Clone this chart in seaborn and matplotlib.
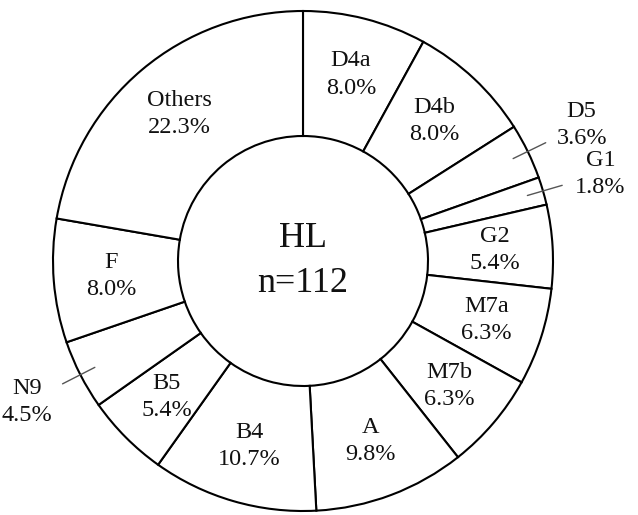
import numpy as np
import matplotlib
matplotlib.use("Agg")
import matplotlib.pyplot as plt
import seaborn as sns

# Haplogroup shares (%) in clockwise order starting at 12 o'clock
groups = ["D4a", "D4b", "D5", "G1", "G2", "M7a", "M7b", "A", "B4", "B5", "N9", "F", "Others"]
percents = [8.0, 8.0, 3.6, 1.8, 5.4, 6.3, 6.3, 9.8, 10.7, 5.4, 4.5, 8.0, 22.3]
# Narrow slices whose labels sit outside the ring with a leader line
outside_labels = ["D5", "G1", "N9"]
center_title = "HL"
n_total = 112

sns.set_theme(style="white")
plt.rcParams["font.family"] = ["Liberation Serif", "DejaVu Serif"]

fig = plt.figure(figsize=(6.38, 5.15), dpi=100)
ax = fig.add_axes([0, 0, 1, 1])

wedges, _ = ax.pie(
    percents,
    startangle=90,
    counterclock=False,
    radius=1.0,
    wedgeprops=dict(width=0.5, facecolor="white", edgecolor="black", linewidth=1.5),
)
ax.set_xlim(-1.212, 1.340)
ax.set_ylim(-1.016, 1.044)
ax.set_aspect("auto")
ax.axis("off")

for w, name, pct in zip(wedges, groups, percents):
    mid = np.deg2rad((w.theta1 + w.theta2) / 2.0)
    c, s = np.cos(mid), np.sin(mid)
    label = f"{name}\n{pct:.1f}%"
    if name in outside_labels:
        ax.plot([0.935 * c, 1.08 * c], [0.935 * s, 1.08 * s], color="#555555", lw=1.0)
        ax.text(1.24 * c, 1.24 * s, label, ha="center", va="center",
                fontsize=17.5, linespacing=1.38, color="#111111")
    else:
        ax.text(0.77 * c, 0.77 * s, label, ha="center", va="center",
                fontsize=17.5, linespacing=1.38, color="#111111")

ax.text(0, 0.0, f"{center_title}\nn={n_total}", ha="center", va="center",
        fontsize=26, linespacing=1.45, color="#111111")

fig.savefig("out.png", dpi=100)
